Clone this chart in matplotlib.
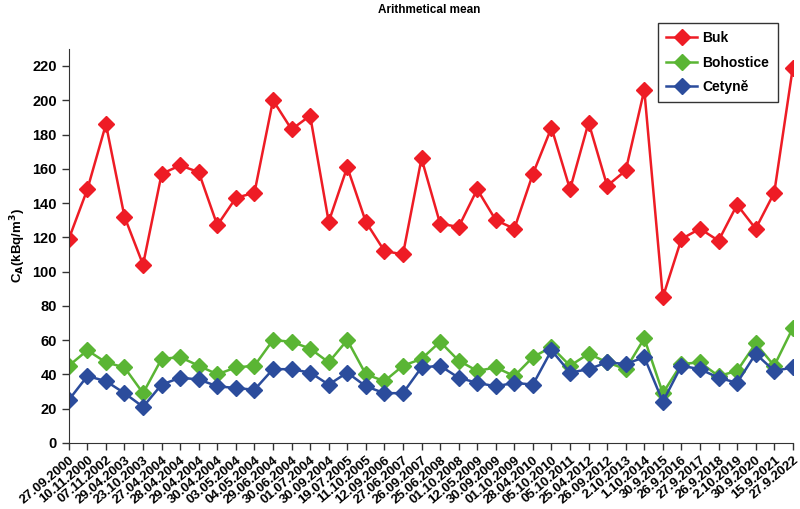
import numpy as np
import matplotlib
matplotlib.use("Agg")
import matplotlib.pyplot as plt

plt.rcParams['font.family'] = ['Liberation Sans', 'DejaVu Sans']
plt.rcParams['font.weight'] = 'bold'
plt.rcParams['mathtext.default'] = 'bf'

dates = ["27.09.2000", "10.11.2000", "07.11.2002", "29.04.2003", "23.10.2003",
         "27.04.2004", "28.04.2004", "29.04.2004", "30.04.2004", "03.05.2004",
         "04.05.2004", "29.06.2004", "30.06.2004", "01.07.2004", "30.09.2004",
         "19.07.2005", "11.10.2005", "12.09.2006", "27.06.2007", "26.09.2007",
         "25.06.2008", "01.10.2008", "12.05.2009", "30.09.2009", "01.10.2009",
         "28.04.2010", "05.10.2010", "05.10.2011", "25.04.2012", "26.09.2012",
         "2.10.2013", "1.10.2014", "30.9.2015", "26.9.2016", "27.9.2017",
         "26.9.2018", "2.10.2019", "30.9.2020", "15.9.2021", "27.9.2022"]

buk = [119, 148, 186, 132, 104, 157, 162, 158, 127, 143,
       146, 200, 183, 191, 129, 161, 129, 112, 110, 166,
       128, 126, 148, 130, 125, 157, 184, 148, 187, 150,
       159, 206, 85, 119, 125, 118, 139, 125, 146, 219]

bohostice = [45, 54, 47, 44, 29, 49, 50, 45, 40, 44,
             45, 60, 59, 55, 47, 60, 40, 36, 45, 49,
             59, 48, 42, 44, 39, 50, 56, 45, 52, 47,
             43, 61, 29, 46, 47, 39, 42, 58, 45, 67]

cetyne = [25, 39, 36, 29, 21, 34, 38, 37, 33, 32,
          31, 43, 43, 41, 34, 41, 33, 29, 29, 44,
          45, 38, 35, 33, 35, 34, 54, 41, 43, 47,
          46, 50, 24, 45, 43, 38, 35, 52, 42, 44]

x = np.arange(len(dates))

fig = plt.figure(figsize=(8, 5.09), dpi=100)
ax = fig.add_axes([0.086, 0.13, 0.905, 0.774])

ax.plot(x, buk, color="#ee1c25", marker="D", markersize=8.2, lw=1.8, label="Buk")
ax.plot(x, bohostice, color="#5ab534", marker="D", markersize=8.2, lw=1.8, label="Bohostice")
ax.plot(x, cetyne, color="#2b4c9c", marker="D", markersize=8.2, lw=1.8, label="Cetyně")

ax.set_xlim(0, len(dates) - 1)
ax.set_ylim(0, 230)
ax.set_yticks(np.arange(0, 221, 20))
ax.set_yticklabels([str(v) for v in range(0, 221, 20)], fontsize=10.5, fontweight="bold")
ax.set_xticks(x)
ax.set_xticklabels(dates, rotation=40, ha="right", va="top", rotation_mode="anchor",
                   fontsize=9.5, fontweight="bold")
ax.tick_params(direction="out", length=5, width=1, color="#333333")
ax.tick_params(axis="x", pad=3)
for s in ["top", "right"]:
    ax.spines[s].set_visible(False)
for s in ["left", "bottom"]:
    ax.spines[s].set_color("#333333")

ax.set_ylabel("C$_\\mathbf{A}$(kBq/m$^\\mathbf{3}$)", fontsize=9.5, fontweight="bold", labelpad=3)
fig.text(0.537, 0.992, "Arithmetical mean", ha="center", va="top", fontsize=8.5, fontweight="bold")

leg = ax.legend(loc="upper right", bbox_to_anchor=(0.979, 1.066), borderaxespad=0,
                prop={"size": 10, "weight": "bold"},
                frameon=True, fancybox=False, edgecolor="#333333", framealpha=1,
                handlelength=2.2, handletextpad=0.4, borderpad=0.6, labelspacing=0.75)
leg.get_frame().set_linewidth(1)

fig.savefig("out.png", dpi=100)
